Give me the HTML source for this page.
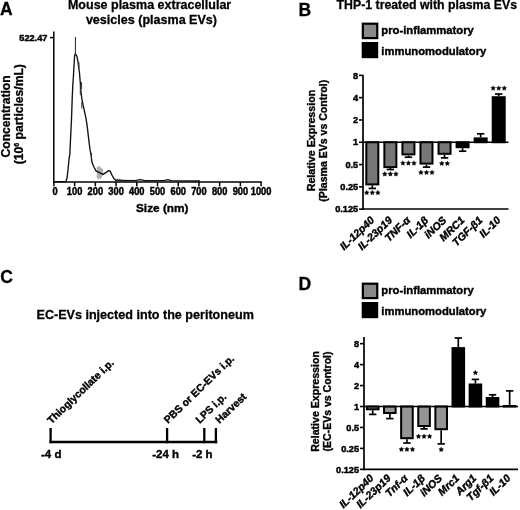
<!DOCTYPE html>
<html><head><meta charset="utf-8"><style>
html,body{margin:0;padding:0;background:#fff;overflow:hidden;width:520px;height:510px;}
svg{display:block;filter:grayscale(100%) blur(0.3px);}
text{font-family:"Liberation Sans", sans-serif;font-weight:bold;fill:#000;stroke:#000;}
</style></head><body>
<svg width="520" height="510" viewBox="0 0 520 510">
<rect width="520" height="510" fill="#fff"/>
<text x="0" y="15.2" font-size="17.5" stroke-width="0.28" text-anchor="start">A</text>
<text x="298.6" y="15.8" font-size="17.5" stroke-width="0.28" text-anchor="start">B</text>
<text x="0.2" y="283.2" font-size="17.5" stroke-width="0.28" text-anchor="start">C</text>
<text x="298.6" y="289.8" font-size="17.5" stroke-width="0.28" text-anchor="start">D</text>
<text x="149.6" y="9.4" font-size="12.5" stroke-width="0.28" text-anchor="middle">Mouse plasma extracellular</text>
<text x="151.45" y="24.4" font-size="12.55" stroke-width="0.28" text-anchor="middle">vesicles (plasma EVs)</text>
<line x1="53.8" y1="31.5" x2="53.8" y2="182.8" stroke="#000" stroke-width="1.5"/>
<line x1="50.0" y1="37.6" x2="53.8" y2="37.6" stroke="#000" stroke-width="1.5"/>
<text x="47.4" y="40.7" font-size="9.2" stroke-width="0.45" text-anchor="end">522.47</text>
<line x1="53.0" y1="182.0" x2="261.9" y2="182.0" stroke="#000" stroke-width="1.6"/>
<line x1="53.9" y1="182.0" x2="53.9" y2="186.2" stroke="#000" stroke-width="1.5"/>
<text transform="translate(55.00,195.1) scale(0.93,1)" x="0" y="0" font-size="10" stroke-width="0.45" text-anchor="middle">0</text>
<line x1="74.62" y1="182.0" x2="74.62" y2="186.2" stroke="#000" stroke-width="1.5"/>
<text transform="translate(74.62,195.1) scale(0.93,1)" x="0" y="0" font-size="10" stroke-width="0.45" text-anchor="middle">100</text>
<line x1="95.34" y1="182.0" x2="95.34" y2="186.2" stroke="#000" stroke-width="1.5"/>
<text transform="translate(95.34,195.1) scale(0.93,1)" x="0" y="0" font-size="10" stroke-width="0.45" text-anchor="middle">200</text>
<line x1="116.06" y1="182.0" x2="116.06" y2="186.2" stroke="#000" stroke-width="1.5"/>
<text transform="translate(116.06,195.1) scale(0.93,1)" x="0" y="0" font-size="10" stroke-width="0.45" text-anchor="middle">300</text>
<line x1="136.78" y1="182.0" x2="136.78" y2="186.2" stroke="#000" stroke-width="1.5"/>
<text transform="translate(136.78,195.1) scale(0.93,1)" x="0" y="0" font-size="10" stroke-width="0.45" text-anchor="middle">400</text>
<line x1="157.5" y1="182.0" x2="157.5" y2="186.2" stroke="#000" stroke-width="1.5"/>
<text transform="translate(157.50,195.1) scale(0.93,1)" x="0" y="0" font-size="10" stroke-width="0.45" text-anchor="middle">500</text>
<line x1="178.22" y1="182.0" x2="178.22" y2="186.2" stroke="#000" stroke-width="1.5"/>
<text transform="translate(178.22,195.1) scale(0.93,1)" x="0" y="0" font-size="10" stroke-width="0.45" text-anchor="middle">600</text>
<line x1="198.94" y1="182.0" x2="198.94" y2="186.2" stroke="#000" stroke-width="1.5"/>
<text transform="translate(198.94,195.1) scale(0.93,1)" x="0" y="0" font-size="10" stroke-width="0.45" text-anchor="middle">700</text>
<line x1="219.66" y1="182.0" x2="219.66" y2="186.2" stroke="#000" stroke-width="1.5"/>
<text transform="translate(219.66,195.1) scale(0.93,1)" x="0" y="0" font-size="10" stroke-width="0.45" text-anchor="middle">800</text>
<line x1="240.38" y1="182.0" x2="240.38" y2="186.2" stroke="#000" stroke-width="1.5"/>
<text transform="translate(240.38,195.1) scale(0.93,1)" x="0" y="0" font-size="10" stroke-width="0.45" text-anchor="middle">900</text>
<line x1="261.09999999999997" y1="182.0" x2="261.09999999999997" y2="186.2" stroke="#000" stroke-width="1.5"/>
<text transform="translate(261.10,195.1) scale(0.93,1)" x="0" y="0" font-size="10" stroke-width="0.45" text-anchor="middle">1000</text>
<text x="136.0" y="212.0" font-size="11.8" stroke-width="0.38" text-anchor="start">Size (nm)</text>
<g transform="translate(9.5,116.4) rotate(-90)"><text x="0" y="0" font-size="12.1" stroke-width="0.3" text-anchor="middle">Concentration</text></g>
<g transform="translate(23.1,114.2) rotate(-90)"><text x="0" y="0" font-size="12.1" stroke-width="0.3" text-anchor="middle">(10<tspan font-size="7" dy="-4.5">6</tspan><tspan dy="4.5"> particles/mL)</tspan></text></g>
<line x1="97.3" y1="167" x2="97.3" y2="178" stroke="#9a9a9a" stroke-width="0.9"/>
<line x1="98.3" y1="166" x2="98.3" y2="179.5" stroke="#9a9a9a" stroke-width="0.9"/>
<line x1="99.3" y1="167" x2="99.3" y2="178.5" stroke="#9a9a9a" stroke-width="0.9"/>
<line x1="100.3" y1="166.5" x2="100.3" y2="179" stroke="#9a9a9a" stroke-width="0.9"/>
<line x1="101.3" y1="168" x2="101.3" y2="177.5" stroke="#9a9a9a" stroke-width="0.9"/>
<line x1="102.3" y1="169" x2="102.3" y2="176" stroke="#9a9a9a" stroke-width="0.9"/>
<path d="M54,181.7 L65.8,181.7 L67,178.3 L68,170 L69.2,157.5 L69.8,154.9 L70.5,139.8 L71.5,119.2 L72.2,98.7 L72.8,85 L73.4,76.7 L74,66 L74.6,55.5 L75.4,53.8 L76.9,56.1 L78.1,62.6 L79.5,73 L80.4,84 L81,92 L81.8,98.7 L83.8,108.3 L85.9,117.9 L87.2,126.1 L88.6,138.4 L90,149.4 L91,154.9 L91.9,161.7 L92.9,164.4 L94.3,167.8 L96,170.9 L99.4,172.6 L103.2,174.4 L108.7,170.6 L110,170.9 L112.1,175.4 L114.5,179.5 L116,180.5 L135,180.6 L140,179.6 L145,180.6 L164,180.6 L167.7,179.6 L171,180.6 L200,181" fill="none" stroke="#111" stroke-width="1.35" stroke-linejoin="round"/>
<line x1="75.4" y1="37.0" x2="75.4" y2="54" stroke="#222" stroke-width="1.0"/>
<line x1="78.9" y1="62" x2="78.9" y2="68" stroke="#333" stroke-width="1.0"/>
<line x1="81.6" y1="82" x2="81.6" y2="89" stroke="#333" stroke-width="1.0"/>
<line x1="80.3" y1="85" x2="80.3" y2="95" stroke="#333" stroke-width="1.0"/>
<line x1="81.8" y1="102" x2="81.8" y2="108.5" stroke="#333" stroke-width="1.0"/>
<line x1="91.5" y1="153" x2="91.5" y2="158.5" stroke="#333" stroke-width="1.0"/>
<line x1="115.8" y1="178.5" x2="115.8" y2="181" stroke="#333" stroke-width="1.0"/>
<line x1="117.5" y1="178.8" x2="117.5" y2="181" stroke="#333" stroke-width="1.0"/>
<line x1="119.2" y1="178.8" x2="119.2" y2="181" stroke="#333" stroke-width="1.0"/>
<line x1="121" y1="179" x2="121" y2="181" stroke="#333" stroke-width="1.0"/>
<text x="336.6" y="9.4" font-size="12.3" stroke-width="0.28" text-anchor="start">THP-1 treated with plasma EVs</text>
<rect x="362.85" y="23.7" width="14.4" height="14.4" fill="#898989" stroke="#000" stroke-width="2.2"/>
<rect x="361.7" y="42.0" width="16.5" height="16.2" fill="#000"/>
<text x="381.3" y="34.1" font-size="11.25" stroke-width="0.38" text-anchor="start">pro-inflammatory</text>
<text x="381.3" y="54.599999999999994" font-size="11.25" stroke-width="0.38" text-anchor="start">immunomodulatory</text>
<line x1="363.0" y1="75.0" x2="363.0" y2="209.85" stroke="#000" stroke-width="1.7"/>
<line x1="362.15" y1="209.0" x2="508.5" y2="209.0" stroke="#000" stroke-width="1.7"/>
<line x1="359.0" y1="75.35" x2="363.0" y2="75.35" stroke="#000" stroke-width="1.6"/>
<text x="358.2" y="78.55" font-size="9.2" stroke-width="0.45" text-anchor="end">8</text>
<line x1="359.0" y1="97.65" x2="363.0" y2="97.65" stroke="#000" stroke-width="1.6"/>
<text x="358.2" y="100.85" font-size="9.2" stroke-width="0.45" text-anchor="end">4</text>
<line x1="359.0" y1="119.95" x2="363.0" y2="119.95" stroke="#000" stroke-width="1.6"/>
<text x="358.2" y="123.15" font-size="9.2" stroke-width="0.45" text-anchor="end">2</text>
<line x1="359.0" y1="142.25" x2="363.0" y2="142.25" stroke="#000" stroke-width="1.6"/>
<text x="358.2" y="145.45" font-size="9.2" stroke-width="0.45" text-anchor="end">1</text>
<line x1="359.0" y1="164.55" x2="363.0" y2="164.55" stroke="#000" stroke-width="1.6"/>
<text x="358.2" y="167.75" font-size="9.2" stroke-width="0.45" text-anchor="end">0.5</text>
<line x1="359.0" y1="186.85" x2="363.0" y2="186.85" stroke="#000" stroke-width="1.6"/>
<text x="358.2" y="190.05" font-size="9.2" stroke-width="0.45" text-anchor="end">0.25</text>
<line x1="359.0" y1="209.15" x2="363.0" y2="209.15" stroke="#000" stroke-width="1.6"/>
<text x="358.2" y="212.35" font-size="9.2" stroke-width="0.45" text-anchor="end">0.125</text>
<line x1="372.3" y1="185.4" x2="372.3" y2="188.4" stroke="#000" stroke-width="1.7"/>
<line x1="368.6" y1="188.4" x2="376.0" y2="188.4" stroke="#000" stroke-width="1.7"/>
<rect x="366.3" y="142.25" width="12.0" height="42.150000000000006" fill="#777" stroke="#000" stroke-width="2"/>
<polygon points="366.75,190.20 367.51,191.65 369.13,191.93 367.99,193.10 368.22,194.72 366.75,194.00 365.28,194.72 365.51,193.10 364.37,191.93 365.99,191.65" fill="#000" stroke="#000" stroke-width="0.35" stroke-linejoin="round"/>
<polygon points="372.30,190.20 373.06,191.65 374.68,191.93 373.54,193.10 373.77,194.72 372.30,194.00 370.83,194.72 371.06,193.10 369.92,191.93 371.54,191.65" fill="#000" stroke="#000" stroke-width="0.35" stroke-linejoin="round"/>
<polygon points="377.85,190.20 378.61,191.65 380.23,191.93 379.09,193.10 379.32,194.72 377.85,194.00 376.38,194.72 376.61,193.10 375.47,191.93 377.09,191.65" fill="#000" stroke="#000" stroke-width="0.35" stroke-linejoin="round"/>
<line x1="390.36" y1="168.1" x2="390.36" y2="169.5" stroke="#000" stroke-width="1.7"/>
<line x1="386.66" y1="169.5" x2="394.06" y2="169.5" stroke="#000" stroke-width="1.7"/>
<rect x="384.36" y="142.25" width="12.0" height="24.849999999999994" fill="#777" stroke="#000" stroke-width="2"/>
<polygon points="384.81,171.60 385.57,173.05 387.19,173.33 386.05,174.50 386.28,176.12 384.81,175.40 383.34,176.12 383.57,174.50 382.43,173.33 384.05,173.05" fill="#000" stroke="#000" stroke-width="0.35" stroke-linejoin="round"/>
<polygon points="390.36,171.60 391.12,173.05 392.74,173.33 391.60,174.50 391.83,176.12 390.36,175.40 388.89,176.12 389.12,174.50 387.98,173.33 389.60,173.05" fill="#000" stroke="#000" stroke-width="0.35" stroke-linejoin="round"/>
<polygon points="395.91,171.60 396.67,173.05 398.29,173.33 397.15,174.50 397.38,176.12 395.91,175.40 394.44,176.12 394.67,174.50 393.53,173.33 395.15,173.05" fill="#000" stroke="#000" stroke-width="0.35" stroke-linejoin="round"/>
<line x1="408.42" y1="155.4" x2="408.42" y2="157.2" stroke="#000" stroke-width="1.7"/>
<line x1="404.72" y1="157.2" x2="412.12" y2="157.2" stroke="#000" stroke-width="1.7"/>
<rect x="402.42" y="142.25" width="12.0" height="12.150000000000006" fill="#777" stroke="#000" stroke-width="2"/>
<polygon points="402.87,160.70 403.63,162.15 405.25,162.43 404.11,163.60 404.34,165.22 402.87,164.50 401.40,165.22 401.63,163.60 400.49,162.43 402.11,162.15" fill="#000" stroke="#000" stroke-width="0.35" stroke-linejoin="round"/>
<polygon points="408.42,160.70 409.18,162.15 410.80,162.43 409.66,163.60 409.89,165.22 408.42,164.50 406.95,165.22 407.18,163.60 406.04,162.43 407.66,162.15" fill="#000" stroke="#000" stroke-width="0.35" stroke-linejoin="round"/>
<polygon points="413.97,160.70 414.73,162.15 416.35,162.43 415.21,163.60 415.44,165.22 413.97,164.50 412.50,165.22 412.73,163.60 411.59,162.43 413.21,162.15" fill="#000" stroke="#000" stroke-width="0.35" stroke-linejoin="round"/>
<line x1="426.48" y1="164.6" x2="426.48" y2="167.1" stroke="#000" stroke-width="1.7"/>
<line x1="422.78000000000003" y1="167.1" x2="430.18" y2="167.1" stroke="#000" stroke-width="1.7"/>
<rect x="420.48" y="142.25" width="12.0" height="21.349999999999994" fill="#777" stroke="#000" stroke-width="2"/>
<polygon points="420.93,170.00 421.69,171.45 423.31,171.73 422.17,172.90 422.40,174.52 420.93,173.80 419.46,174.52 419.69,172.90 418.55,171.73 420.17,171.45" fill="#000" stroke="#000" stroke-width="0.35" stroke-linejoin="round"/>
<polygon points="426.48,170.00 427.24,171.45 428.86,171.73 427.72,172.90 427.95,174.52 426.48,173.80 425.01,174.52 425.24,172.90 424.10,171.73 425.72,171.45" fill="#000" stroke="#000" stroke-width="0.35" stroke-linejoin="round"/>
<polygon points="432.03,170.00 432.79,171.45 434.41,171.73 433.27,172.90 433.50,174.52 432.03,173.80 430.56,174.52 430.79,172.90 429.65,171.73 431.27,171.45" fill="#000" stroke="#000" stroke-width="0.35" stroke-linejoin="round"/>
<line x1="444.54" y1="154.8" x2="444.54" y2="157.9" stroke="#000" stroke-width="1.7"/>
<line x1="440.84000000000003" y1="157.9" x2="448.24" y2="157.9" stroke="#000" stroke-width="1.7"/>
<rect x="438.54" y="142.25" width="12.0" height="11.550000000000011" fill="#777" stroke="#000" stroke-width="2"/>
<polygon points="441.77,161.00 442.53,162.45 444.14,162.73 443.00,163.90 443.23,165.52 441.77,164.80 440.30,165.52 440.53,163.90 439.39,162.73 441.00,162.45" fill="#000" stroke="#000" stroke-width="0.35" stroke-linejoin="round"/>
<polygon points="447.32,161.00 448.08,162.45 449.69,162.73 448.55,163.90 448.78,165.52 447.32,164.80 445.85,165.52 446.08,163.90 444.94,162.73 446.55,162.45" fill="#000" stroke="#000" stroke-width="0.35" stroke-linejoin="round"/>
<line x1="462.6" y1="148.2" x2="462.6" y2="151.2" stroke="#000" stroke-width="1.7"/>
<line x1="458.90000000000003" y1="151.2" x2="466.3" y2="151.2" stroke="#000" stroke-width="1.7"/>
<rect x="456.6" y="142.25" width="12.0" height="4.949999999999989" fill="#000" stroke="#000" stroke-width="2"/>
<line x1="480.65999999999997" y1="137.4" x2="480.65999999999997" y2="133.8" stroke="#000" stroke-width="1.7"/>
<line x1="476.96" y1="133.8" x2="484.35999999999996" y2="133.8" stroke="#000" stroke-width="1.7"/>
<rect x="474.65999999999997" y="138.4" width="12.0" height="3.8499999999999943" fill="#000" stroke="#000" stroke-width="2"/>
<line x1="498.72" y1="96.2" x2="498.72" y2="94" stroke="#000" stroke-width="1.7"/>
<line x1="495.02000000000004" y1="94" x2="502.42" y2="94" stroke="#000" stroke-width="1.7"/>
<rect x="492.72" y="97.2" width="12.0" height="45.05" fill="#000" stroke="#000" stroke-width="2"/>
<polygon points="493.17,85.80 493.93,87.25 495.55,87.53 494.41,88.70 494.64,90.32 493.17,89.60 491.70,90.32 491.93,88.70 490.79,87.53 492.41,87.25" fill="#000" stroke="#000" stroke-width="0.35" stroke-linejoin="round"/>
<polygon points="498.72,85.80 499.48,87.25 501.10,87.53 499.96,88.70 500.19,90.32 498.72,89.60 497.25,90.32 497.48,88.70 496.34,87.53 497.96,87.25" fill="#000" stroke="#000" stroke-width="0.35" stroke-linejoin="round"/>
<polygon points="504.27,85.80 505.03,87.25 506.65,87.53 505.51,88.70 505.74,90.32 504.27,89.60 502.80,90.32 503.03,88.70 501.89,87.53 503.51,87.25" fill="#000" stroke="#000" stroke-width="0.35" stroke-linejoin="round"/>
<line x1="363.0" y1="142.25" x2="508.5" y2="142.25" stroke="#000" stroke-width="1.6"/>
<text transform="translate(374.90,221.0) rotate(-44)" x="0" y="0" font-size="10.6" stroke-width="0.4" font-style="italic" text-anchor="end">IL-12p40</text>
<text transform="translate(392.96,221.0) rotate(-44)" x="0" y="0" font-size="10.6" stroke-width="0.4" font-style="italic" text-anchor="end">IL-23p19</text>
<text transform="translate(411.02,221.0) rotate(-44)" x="0" y="0" font-size="10.6" stroke-width="0.4" font-style="italic" text-anchor="end">TNF-α</text>
<text transform="translate(429.08,221.0) rotate(-44)" x="0" y="0" font-size="10.6" stroke-width="0.4" font-style="italic" text-anchor="end">IL-1β</text>
<text transform="translate(447.14,221.0) rotate(-44)" x="0" y="0" font-size="10.6" stroke-width="0.4" font-style="italic" text-anchor="end">iNOS</text>
<text transform="translate(465.20,221.0) rotate(-44)" x="0" y="0" font-size="10.6" stroke-width="0.4" font-style="italic" text-anchor="end">MRC1</text>
<text transform="translate(483.26,221.0) rotate(-44)" x="0" y="0" font-size="10.6" stroke-width="0.4" font-style="italic" text-anchor="end">TGF-β1</text>
<text transform="translate(501.32,221.0) rotate(-44)" x="0" y="0" font-size="10.6" stroke-width="0.4" font-style="italic" text-anchor="end">IL-10</text>
<g transform="translate(315.0,140.5) rotate(-90)"><text x="0" y="0" font-size="10.7" stroke-width="0.35" text-anchor="middle">Relative Expression</text></g>
<g transform="translate(327.0,140.7) rotate(-90)"><text x="0" y="0" font-size="10.55" stroke-width="0.35" text-anchor="middle">(Plasma EVs vs Control)</text></g>
<text x="36.5" y="319.1" font-size="12.58" stroke-width="0.28" text-anchor="start">EC-EVs injected into the peritoneum</text>
<line x1="49.4" y1="442" x2="217.3" y2="442" stroke="#000" stroke-width="2.5"/>
<line x1="50.6" y1="428" x2="50.6" y2="443.2" stroke="#000" stroke-width="2.3"/>
<line x1="167.1" y1="428" x2="167.1" y2="443.2" stroke="#000" stroke-width="2.3"/>
<line x1="204.3" y1="428" x2="204.3" y2="443.2" stroke="#000" stroke-width="2.3"/>
<line x1="215.9" y1="428" x2="215.9" y2="443.2" stroke="#000" stroke-width="2.3"/>
<text x="41.0" y="458.3" font-size="11.5" stroke-width="0.38" text-anchor="start">-4 d</text>
<text x="152.2" y="458.0" font-size="11.5" stroke-width="0.38" text-anchor="start">-24 h</text>
<text x="192.2" y="458.0" font-size="11.5" stroke-width="0.38" text-anchor="start">-2 h</text>
<text transform="translate(51.4,424.5) rotate(-44)" x="0" y="0" font-size="10.4" stroke-width="0.38">Thioglycollate i.p.</text>
<text transform="translate(168.0,424.0) rotate(-44)" x="0" y="0" font-size="10.4" stroke-width="0.38">PBS or EC-EVs i.p.</text>
<text transform="translate(199.7,424.0) rotate(-44)" x="0" y="0" font-size="10.4" stroke-width="0.38">LPS i.p.</text>
<text transform="translate(219.6,424.0) rotate(-44)" x="0" y="0" font-size="10.4" stroke-width="0.38">Harvest</text>
<rect x="362.85" y="283.7" width="14.4" height="14.4" fill="#898989" stroke="#000" stroke-width="2.2"/>
<rect x="361.7" y="302.0" width="16.5" height="16.2" fill="#000"/>
<text x="381.3" y="294.1" font-size="11.25" stroke-width="0.38" text-anchor="start">pro-inflammatory</text>
<text x="381.3" y="314.6" font-size="11.25" stroke-width="0.38" text-anchor="start">immunomodulatory</text>
<line x1="364.0" y1="337.0" x2="364.0" y2="470.25" stroke="#000" stroke-width="1.7"/>
<line x1="363.15" y1="469.4" x2="518.0" y2="469.4" stroke="#000" stroke-width="1.7"/>
<line x1="360.0" y1="343.65" x2="364.0" y2="343.65" stroke="#000" stroke-width="1.6"/>
<text x="359.1" y="346.85" font-size="9.2" stroke-width="0.45" text-anchor="end">8</text>
<line x1="360.0" y1="364.6" x2="364.0" y2="364.6" stroke="#000" stroke-width="1.6"/>
<text x="359.1" y="367.8" font-size="9.2" stroke-width="0.45" text-anchor="end">4</text>
<line x1="360.0" y1="385.55" x2="364.0" y2="385.55" stroke="#000" stroke-width="1.6"/>
<text x="359.1" y="388.75" font-size="9.2" stroke-width="0.45" text-anchor="end">2</text>
<line x1="360.0" y1="406.5" x2="364.0" y2="406.5" stroke="#000" stroke-width="1.6"/>
<text x="359.1" y="409.7" font-size="9.2" stroke-width="0.45" text-anchor="end">1</text>
<line x1="360.0" y1="427.45" x2="364.0" y2="427.45" stroke="#000" stroke-width="1.6"/>
<text x="359.1" y="430.65" font-size="9.2" stroke-width="0.45" text-anchor="end">0.5</text>
<line x1="360.0" y1="448.4" x2="364.0" y2="448.4" stroke="#000" stroke-width="1.6"/>
<text x="359.1" y="451.6" font-size="9.2" stroke-width="0.45" text-anchor="end">0.25</text>
<line x1="360.0" y1="469.35" x2="364.0" y2="469.35" stroke="#000" stroke-width="1.6"/>
<text x="359.1" y="472.55" font-size="9.2" stroke-width="0.45" text-anchor="end">0.125</text>
<line x1="372.7" y1="410.3" x2="372.7" y2="414.4" stroke="#000" stroke-width="1.7"/>
<line x1="369.0" y1="414.4" x2="376.4" y2="414.4" stroke="#000" stroke-width="1.7"/>
<rect x="366.9" y="406.5" width="11.6" height="2.8000000000000114" fill="#959595" stroke="#000" stroke-width="2"/>
<line x1="389.82" y1="414.0" x2="389.82" y2="418.6" stroke="#000" stroke-width="1.7"/>
<line x1="386.12" y1="418.6" x2="393.52" y2="418.6" stroke="#000" stroke-width="1.7"/>
<rect x="384.02" y="406.5" width="11.6" height="6.5" fill="#959595" stroke="#000" stroke-width="2"/>
<line x1="406.94" y1="439.2" x2="406.94" y2="443" stroke="#000" stroke-width="1.7"/>
<line x1="403.24" y1="443" x2="410.64" y2="443" stroke="#000" stroke-width="1.7"/>
<rect x="401.14" y="406.5" width="11.6" height="31.69999999999999" fill="#959595" stroke="#000" stroke-width="2"/>
<polygon points="401.39,446.90 402.15,448.35 403.77,448.63 402.63,449.80 402.86,451.42 401.39,450.70 399.92,451.42 400.15,449.80 399.01,448.63 400.63,448.35" fill="#000" stroke="#000" stroke-width="0.35" stroke-linejoin="round"/>
<polygon points="406.94,446.90 407.70,448.35 409.32,448.63 408.18,449.80 408.41,451.42 406.94,450.70 405.47,451.42 405.70,449.80 404.56,448.63 406.18,448.35" fill="#000" stroke="#000" stroke-width="0.35" stroke-linejoin="round"/>
<polygon points="412.49,446.90 413.25,448.35 414.87,448.63 413.73,449.80 413.96,451.42 412.49,450.70 411.02,451.42 411.25,449.80 410.11,448.63 411.73,448.35" fill="#000" stroke="#000" stroke-width="0.35" stroke-linejoin="round"/>
<line x1="424.06" y1="427" x2="424.06" y2="428.9" stroke="#000" stroke-width="1.7"/>
<line x1="420.36" y1="428.9" x2="427.76" y2="428.9" stroke="#000" stroke-width="1.7"/>
<rect x="418.26" y="406.5" width="11.6" height="19.5" fill="#959595" stroke="#000" stroke-width="2"/>
<polygon points="418.51,433.90 419.27,435.35 420.89,435.63 419.75,436.80 419.98,438.42 418.51,437.70 417.04,438.42 417.27,436.80 416.13,435.63 417.75,435.35" fill="#000" stroke="#000" stroke-width="0.35" stroke-linejoin="round"/>
<polygon points="424.06,433.90 424.82,435.35 426.44,435.63 425.30,436.80 425.53,438.42 424.06,437.70 422.59,438.42 422.82,436.80 421.68,435.63 423.30,435.35" fill="#000" stroke="#000" stroke-width="0.35" stroke-linejoin="round"/>
<polygon points="429.61,433.90 430.37,435.35 431.99,435.63 430.85,436.80 431.08,438.42 429.61,437.70 428.14,438.42 428.37,436.80 427.23,435.63 428.85,435.35" fill="#000" stroke="#000" stroke-width="0.35" stroke-linejoin="round"/>
<line x1="441.18" y1="430.2" x2="441.18" y2="443.9" stroke="#000" stroke-width="1.7"/>
<line x1="437.48" y1="443.9" x2="444.88" y2="443.9" stroke="#000" stroke-width="1.7"/>
<rect x="435.38" y="406.5" width="11.6" height="22.69999999999999" fill="#959595" stroke="#000" stroke-width="2"/>
<polygon points="441.18,447.10 441.94,448.55 443.56,448.83 442.42,450.00 442.65,451.62 441.18,450.90 439.71,451.62 439.94,450.00 438.80,448.83 440.42,448.55" fill="#000" stroke="#000" stroke-width="0.35" stroke-linejoin="round"/>
<line x1="458.3" y1="347.1" x2="458.3" y2="338" stroke="#000" stroke-width="1.7"/>
<line x1="454.6" y1="338" x2="462.0" y2="338" stroke="#000" stroke-width="1.7"/>
<rect x="452.5" y="348.1" width="11.6" height="58.39999999999998" fill="#000" stroke="#000" stroke-width="2"/>
<line x1="475.42" y1="383.5" x2="475.42" y2="379.4" stroke="#000" stroke-width="1.7"/>
<line x1="471.72" y1="379.4" x2="479.12" y2="379.4" stroke="#000" stroke-width="1.7"/>
<rect x="469.62" y="384.5" width="11.6" height="22.0" fill="#000" stroke="#000" stroke-width="2"/>
<polygon points="475.42,370.30 476.18,371.75 477.80,372.03 476.66,373.20 476.89,374.82 475.42,374.10 473.95,374.82 474.18,373.20 473.04,372.03 474.66,371.75" fill="#000" stroke="#000" stroke-width="0.35" stroke-linejoin="round"/>
<line x1="492.54" y1="397" x2="492.54" y2="394.8" stroke="#000" stroke-width="1.7"/>
<line x1="488.84000000000003" y1="394.8" x2="496.24" y2="394.8" stroke="#000" stroke-width="1.7"/>
<rect x="486.74" y="398" width="11.6" height="8.5" fill="#000" stroke="#000" stroke-width="2"/>
<line x1="509.66" y1="405" x2="509.66" y2="390.9" stroke="#000" stroke-width="1.7"/>
<line x1="505.96000000000004" y1="390.9" x2="513.36" y2="390.9" stroke="#000" stroke-width="1.7"/>
<rect x="503.86" y="406" width="11.6" height="0.5" fill="#000" stroke="#000" stroke-width="2"/>
<line x1="364.0" y1="406.5" x2="518.0" y2="406.5" stroke="#000" stroke-width="1.6"/>
<text transform="translate(374.30,479.0) rotate(-44)" x="0" y="0" font-size="10.6" stroke-width="0.4" font-style="italic" text-anchor="end">IL-12p40</text>
<text transform="translate(391.42,479.0) rotate(-44)" x="0" y="0" font-size="10.6" stroke-width="0.4" font-style="italic" text-anchor="end">IL-23p19</text>
<text transform="translate(408.54,479.0) rotate(-44)" x="0" y="0" font-size="10.6" stroke-width="0.4" font-style="italic" text-anchor="end">Tnf-α</text>
<text transform="translate(425.66,479.0) rotate(-44)" x="0" y="0" font-size="10.6" stroke-width="0.4" font-style="italic" text-anchor="end">IL-1β</text>
<text transform="translate(442.78,479.0) rotate(-44)" x="0" y="0" font-size="10.6" stroke-width="0.4" font-style="italic" text-anchor="end">iNOS</text>
<text transform="translate(459.90,479.0) rotate(-44)" x="0" y="0" font-size="10.6" stroke-width="0.4" font-style="italic" text-anchor="end">Mrc1</text>
<text transform="translate(477.02,479.0) rotate(-44)" x="0" y="0" font-size="10.6" stroke-width="0.4" font-style="italic" text-anchor="end">Arg1</text>
<text transform="translate(494.14,479.0) rotate(-44)" x="0" y="0" font-size="10.6" stroke-width="0.4" font-style="italic" text-anchor="end">Tgf-β1</text>
<text transform="translate(511.26,479.0) rotate(-44)" x="0" y="0" font-size="10.6" stroke-width="0.4" font-style="italic" text-anchor="end">IL-10</text>
<g transform="translate(319.2,401.45) rotate(-90)"><text x="0" y="0" font-size="10.6" stroke-width="0.35" text-anchor="middle">Relative Expression</text></g>
<g transform="translate(330.5,401.45) rotate(-90)"><text x="0" y="0" font-size="10.53" stroke-width="0.35" text-anchor="middle">(EC-EVs vs Control)</text></g>
</svg>
</body></html>
